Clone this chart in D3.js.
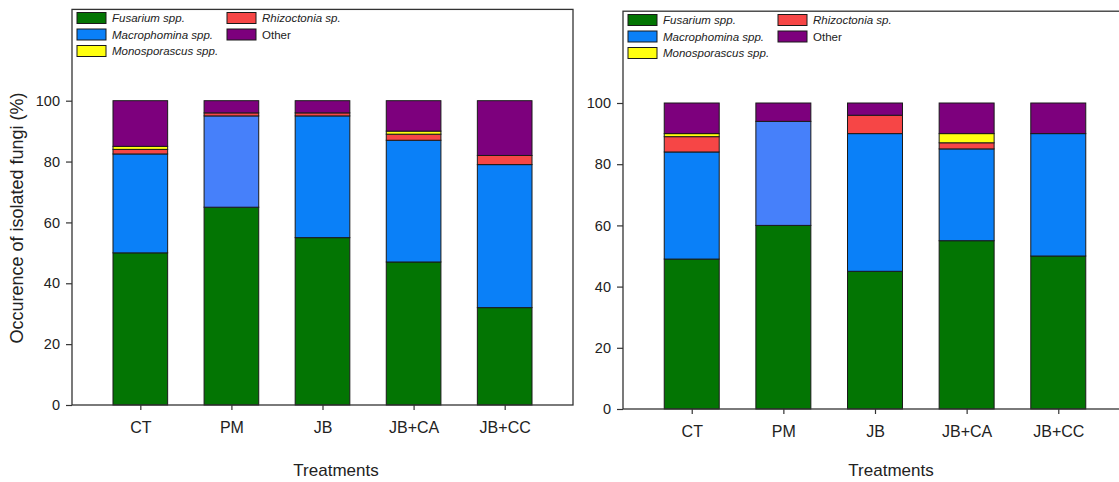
<!DOCTYPE html>
<html>
<head>
<meta charset="utf-8">
<script src="https://cdn.jsdelivr.net/npm/d3@7"></script>
<style>
  html, body { margin: 0; padding: 0; background: #fff; }
  svg { display: block; font-family: "Liberation Sans", Arial, sans-serif; }
</style>
</head>
<body>
<svg id="chart" width="1119" height="482"></svg>
<script>
// Treatments on the x axis
const treatments = ["CT", "PM", "JB", "JB+CA", "JB+CC"];

// Fungal groups, stacked bottom to top
const fungi = ["Fusarium spp.", "Macrophomina spp.", "Monosporascus spp.", "Rhizoctonia sp.", "Other"];
const stackOrder = ["Fusarium spp.", "Macrophomina spp.", "Rhizoctonia sp.", "Monosporascus spp.", "Other"];
const italicNames = ["Fusarium spp.", "Macrophomina spp.", "Monosporascus spp.", "Rhizoctonia sp."];

// Occurrence (%) per treatment, first sampling
const fusariumA      = [50, 65, 55, 47, 32];
const macrophominaA  = [32.5, 30, 40, 40, 47];
const rhizoctoniaA   = [1.5, 1, 1, 2, 3];
const monosporascusA = [1, 0, 0, 1, 0];
const otherA         = [15, 4, 4, 10, 18];

// Occurrence (%) per treatment, second sampling
const fusariumB      = [49, 60, 45, 55, 50];
const macrophominaB  = [35, 34, 45, 30, 40];
const rhizoctoniaB   = [5, 0, 6, 2, 0];
const monosporascusB = [1, 0, 0, 3, 0];
const otherB         = [10, 6, 4, 10, 10];

const yTicks = [0, 20, 40, 60, 80, 100];

const colors = {
  "Fusarium spp.": "#037503",
  "Macrophomina spp.": "#0a80f8",
  "Monosporascus spp.": "#ffff10",
  "Rhizoctonia sp.": "#f64646",
  "Other": "#7d007d"
};
const pmMacroColor = "#4680fa";

function buildRows(f, m, r, mo, o) {
  return treatments.map((t, i) => ({
    treatment: t,
    "Fusarium spp.": f[i],
    "Macrophomina spp.": m[i],
    "Rhizoctonia sp.": r[i],
    "Monosporascus spp.": mo[i],
    "Other": o[i]
  }));
}

const svg = d3.select("#chart");

function drawPanel(rows, opt) {
  const g = svg.append("g");
  const x = d3.scalePoint().domain(treatments).range([opt.left, opt.right]).padding(0.75);
  const y = d3.scaleLinear().domain([0, 130]).range([opt.bottom, opt.top]);
  const barW = x.step() * 0.6;

  const series = d3.stack().keys(stackOrder)(rows);

  g.selectAll("g.layer").data(series).join("g")
    .attr("class", "layer")
    .selectAll("rect").data(s => s.map(d => ({ key: s.key, d })))
    .join("rect")
    .filter(v => v.d[1] - v.d[0] > 0)
    .attr("x", v => x(v.d.data.treatment) - barW / 2)
    .attr("y", v => y(v.d[1]))
    .attr("width", barW)
    .attr("height", v => y(v.d[0]) - y(v.d[1]))
    .attr("fill", v => (v.key === "Macrophomina spp." && v.d.data.treatment === "PM") ? pmMacroColor : colors[v.key])
    .attr("stroke", "#1a1a1a")
    .attr("stroke-width", 1);

  // frame
  g.append("rect")
    .attr("x", opt.left).attr("y", opt.top)
    .attr("width", opt.right - opt.left).attr("height", opt.bottom - opt.top)
    .attr("fill", "none").attr("stroke", "#333").attr("stroke-width", 1.3);

  // y axis
  const ya = g.append("g").attr("transform", `translate(${opt.left},0)`)
    .call(d3.axisLeft(y).tickValues(yTicks).tickSize(6).tickPadding(6));
  ya.select(".domain").remove();
  ya.selectAll("line").attr("stroke", "#333").attr("stroke-width", 1.2);
  ya.selectAll("text").attr("font-size", 14.5).attr("fill", "#222").style("font-family", "Liberation Sans, Arial, sans-serif");

  // x axis
  const xa = g.append("g").attr("transform", `translate(0,${opt.bottom})`)
    .call(d3.axisBottom(x).tickSize(5).tickPadding(12));
  xa.select(".domain").remove();
  xa.selectAll("line").attr("stroke", "#333").attr("stroke-width", 1.2);
  xa.selectAll("text").attr("font-size", 16).attr("fill", "#222").style("font-family", "Liberation Sans, Arial, sans-serif");

  // x title
  g.append("text")
    .attr("x", opt.titleX).attr("y", 476)
    .attr("text-anchor", "middle").attr("font-size", 17).attr("fill", "#222")
    .text("Treatments");

  // legend
  const cols = [fungi.slice(0, 3), fungi.slice(3)];
  cols.forEach((col, ci) => {
    col.forEach((name, ri) => {
      const lx = opt.legendX[ci];
      const ly = opt.legendY + ri * 16.5;
      g.append("rect")
        .attr("x", lx).attr("y", ly - 5.5)
        .attr("width", 29).attr("height", 11)
        .attr("fill", colors[name]).attr("stroke", "#1a1a1a").attr("stroke-width", 1);
      g.append("text")
        .attr("x", lx + 35).attr("y", ly + 4)
        .attr("font-size", 11.5).attr("fill", "#222")
        .attr("font-style", italicNames.includes(name) ? "italic" : "normal")
        .text(name);
    });
  });
}

drawPanel(buildRows(fusariumA, macrophominaA, rhizoctoniaA, monosporascusA, otherA), {
  left: 72, right: 573, top: 9.4, bottom: 405,
  titleX: 336, legendX: [77, 227], legendY: 18
});

drawPanel(buildRows(fusariumB, macrophominaB, rhizoctoniaB, monosporascusB, otherB), {
  left: 623, right: 1127, top: 11.2, bottom: 409,
  titleX: 891, legendX: [628, 778], legendY: 20
});

// shared y title
svg.append("text")
  .attr("transform", "translate(23,218) rotate(-90)")
  .attr("text-anchor", "middle").attr("font-size", 18).attr("fill", "#222")
  .text("Occurence of isolated fungi (%)");
</script>
</body>
</html>
